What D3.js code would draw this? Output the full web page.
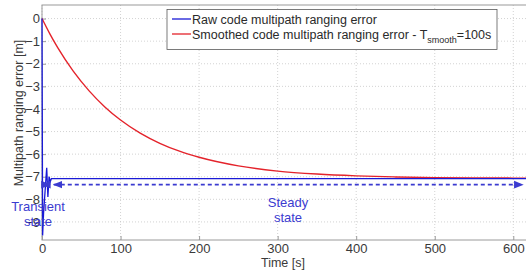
<!DOCTYPE html>
<html>
<head>
<meta charset="utf-8">
<script src="https://cdn.jsdelivr.net/npm/d3@7.9.0/dist/d3.min.js"></script>
<style>
  body { margin: 0; background: #fff; }
  svg { display: block; font-family: "Liberation Sans", Arial, sans-serif; }
</style>
</head>
<body>
<svg id="chart" width="526" height="276"></svg>
<script>
// Smoothed code multipath error (time [s], error [m])
const smoothT = [0, 10, 20, 40, 60, 80, 100, 125, 150, 175, 200, 250, 300, 350, 400, 450, 500, 550, 600, 620];
const smoothV = [0, -0.68, -1.29, -2.34, -3.2, -3.91, -4.49, -5.07, -5.52, -5.87, -6.14, -6.52, -6.75, -6.88, -6.96, -7.01, -7.04, -7.05, -7.06, -7.06];

// Raw code multipath error: transient then steady
const rawT = [0, 0.8, 2, 4, 6, 7.5, 9, 10.5, 12, 620];
const rawV = [0, -9.6, -8.6, -7.6, -6.6, -7.9, -7.0, -7.22, -7.08, -7.08];

const xTicks = [0, 100, 200, 300, 400, 500, 600];
const yTicks = [0, -1, -2, -3, -4, -5, -6, -7, -8, -9];

const legendLabels = ['Raw code multipath ranging error', 'Smoothed code multipath ranging error - T'];
const colors = { raw: '#1a1ad6', smooth: '#e4232b', note: '#3b3bd0' };

const svg = d3.select('#chart');
const padL = 42, padT = 5, padB = 240, padR = 529;

const x = d3.scaleLinear().domain([0, 620]).range([padL, padR]);
const y = d3.scaleLinear().domain([-9.8, 0.6]).range([padB, padT]);

// grid
const grid = svg.append('g');
xTicks.forEach(t => {
  grid.append('line')
    .attr('x1', x(t)).attr('x2', x(t)).attr('y1', padT).attr('y2', padB)
    .attr('stroke', '#c8c8c8').attr('stroke-width', 0.8).attr('stroke-dasharray', '1,2');
});
yTicks.forEach(v => {
  grid.append('line')
    .attr('x1', padL).attr('x2', padR).attr('y1', y(v)).attr('y2', y(v))
    .attr('stroke', '#c8c8c8').attr('stroke-width', 0.8).attr('stroke-dasharray', '1,2');
});

// frame
svg.append('rect')
  .attr('x', padL).attr('y', padT).attr('width', padR - padL).attr('height', padB - padT)
  .attr('fill', 'none').attr('stroke', '#9a9a9a').attr('stroke-width', 1);

// axes (MATLAB-style inward ticks)
const xAxis = d3.axisBottom(x).tickValues(xTicks).tickSize(-4).tickPadding(4);
const yAxis = d3.axisLeft(y).tickValues(yTicks).tickSize(-4).tickPadding(2);

const gx = svg.append('g').attr('transform', `translate(0,${padB})`).call(xAxis);
const gy = svg.append('g').attr('transform', `translate(${padL},0)`).call(yAxis);
[gx, gy].forEach(g => {
  g.select('.domain').remove();
  g.selectAll('line').attr('stroke', '#9a9a9a');
  g.selectAll('text').attr('fill', '#3a3a3a').style('font-size', '13px');
});

svg.append('text')
  .attr('x', 283).attr('y', 267)
  .attr('text-anchor', 'middle').attr('fill', '#3a3a3a').style('font-size', '12.5px')
  .text('Time [s]');

svg.append('text')
  .attr('transform', 'translate(23,113) rotate(-90)')
  .attr('text-anchor', 'middle').attr('fill', '#3a3a3a').style('font-size', '12.5px')
  .text('Multipath ranging error [m]');

// series
const line = d3.line().x(d => x(d[0])).y(d => y(d[1]));

svg.append('path')
  .datum(smoothT.map((t, i) => [t, smoothV[i]]))
  .attr('d', line.curve(d3.curveMonotoneX))
  .attr('fill', 'none').attr('stroke', colors.smooth).attr('stroke-width', 1.4);

svg.append('path')
  .datum(rawT.map((t, i) => [t, rawV[i]]))
  .attr('d', line.curve(d3.curveLinear))
  .attr('fill', 'none').attr('stroke', colors.raw).attr('stroke-width', 1.3);

// dashed state arrows
const defs = svg.append('defs');
defs.append('marker')
  .attr('id', 'head').attr('viewBox', '0 0 10 10').attr('refX', 9).attr('refY', 5)
  .attr('markerWidth', 6).attr('markerHeight', 6).attr('orient', 'auto-start-reverse')
  .append('path').attr('d', 'M0,1 L10,5 L0,9 Z').attr('fill', colors.note);

const arrowY = -7.35;
[[0, 10], [15, 612]].forEach(([a, b]) => {
  svg.append('line')
    .attr('x1', x(a)).attr('x2', x(b)).attr('y1', y(arrowY)).attr('y2', y(arrowY))
    .attr('stroke', colors.note).attr('stroke-width', 1.6).attr('stroke-dasharray', '4,3')
    .attr('marker-start', 'url(#head)').attr('marker-end', 'url(#head)');
});

const notes = [
  { lines: ['Transient', 'state'], x: 38, y: 211 },
  { lines: ['Steady', 'state'], x: 288, y: 207 }
];
notes.forEach(n => {
  const t = svg.append('text')
    .attr('text-anchor', 'middle').attr('fill', colors.note).style('font-size', '13px');
  n.lines.forEach((s, i) => {
    t.append('tspan').attr('x', n.x).attr('y', n.y + i * 15).text(s);
  });
});

// legend
const lg = svg.append('g');
lg.append('rect')
  .attr('x', 167).attr('y', 9.5).attr('width', 330).attr('height', 40)
  .attr('fill', '#fff').attr('stroke', '#5a5a5a').attr('stroke-width', 0.8);

[colors.raw, colors.smooth].forEach((c, i) => {
  const ly = 19 + i * 15;
  lg.append('line')
    .attr('x1', 172).attr('x2', 191).attr('y1', ly).attr('y2', ly)
    .attr('stroke', c).attr('stroke-width', 1.3);
  const t = lg.append('text')
    .attr('x', 192).attr('y', ly + 4.5).attr('fill', '#2a2a2a').style('font-size', '12.5px')
    .text(legendLabels[i]);
  if (i === 1) {
    t.append('tspan').attr('dy', 4).style('font-size', '9px').text('smooth');
    t.append('tspan').attr('dy', -4).text('=100s');
  }
});
</script>
</body>
</html>
